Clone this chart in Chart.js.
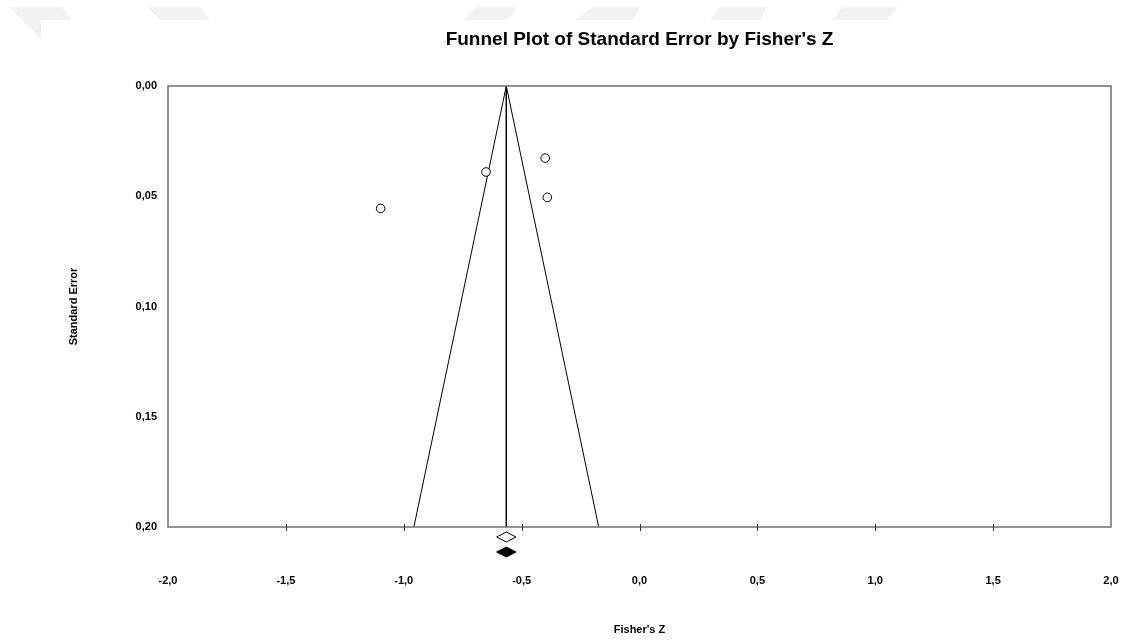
<!DOCTYPE html>
<html>
<head>
<meta charset="utf-8">
<script src="https://cdn.jsdelivr.net/npm/chart.js@4/dist/chart.umd.min.js"></script>
<style>
  html, body { margin: 0; padding: 0; background: #fff; }
  #wrap { width: 1127px; height: 643px; }
</style>
</head>
<body>
<div id="wrap"><canvas id="funnel" width="1127" height="643"></canvas></div>
<script>
// Study values
const studyZ = [-1.098, -0.651, -0.400, -0.391];
const studySE = [0.0555, 0.039, 0.0327, 0.0505];

// Combined effect and funnel limits (95%)
const meanZ = -0.565;
const funnelZ = [-0.957, -0.565, -0.173];
const funnelSE = [0.20, 0.00, 0.20];

// Summary diamonds under the axis (observed / imputed)
const diamondZ = [-0.565, -0.565];
const diamondHalf = [0.041, 0.041];
const diamondFilled = [false, true];

// Axis ticks
const xTicks = [-2.0, -1.5, -1.0, -0.5, 0.0, 0.5, 1.0, 1.5, 2.0];
const yTicks = [0.00, 0.05, 0.10, 0.15, 0.20];

const FONT = "'Liberation Sans', Arial, sans-serif";

// faint watermark bits at the top of the scanned page
const watermark = {
  id: 'watermark',
  beforeDraw(chart) {
    const ctx = chart.ctx;
    const shapes = [
      [[10, 7], [62, 7], [73, 20], [41, 20], [41, 40]],
      [[147, 7], [200, 7], [210, 20], [160, 20]],
      [[477, 7], [517, 7], [507, 20], [463, 20]],
      [[593, 7], [640, 7], [633, 20], [575, 20]],
      [[720, 7], [767, 7], [760, 20], [710, 20]],
      [[843, 7], [897, 7], [887, 20], [833, 20]]
    ];
    ctx.save();
    ctx.fillStyle = '#f1f1f1';
    shapes.forEach(s => {
      ctx.beginPath();
      ctx.moveTo(s[0][0], s[0][1]);
      s.slice(1).forEach(p => ctx.lineTo(p[0], p[1]));
      ctx.closePath();
      ctx.fill();
    });
    ctx.restore();
  }
};

// frame, x tick marks and the diamonds
const frame = {
  id: 'frame',
  afterDraw(chart) {
    const ctx = chart.ctx;
    const a = chart.chartArea;
    const xs = chart.scales.x;
    ctx.save();
    ctx.strokeStyle = '#777';
    ctx.lineWidth = 1.6;
    ctx.strokeRect(a.left, a.top, a.right - a.left, a.bottom - a.top);

    ctx.strokeStyle = '#333';
    ctx.lineWidth = 1;
    xTicks.slice(1, -1).forEach(v => {
      const px = Math.round(xs.getPixelForValue(v)) + 0.5;
      ctx.beginPath();
      ctx.moveTo(px, a.bottom - 3);
      ctx.lineTo(px, a.bottom + 4);
      ctx.stroke();
    });

    diamondZ.forEach((z, i) => {
      const cx = xs.getPixelForValue(z);
      const hw = xs.getPixelForValue(z + diamondHalf[i]) - cx;
      const cy = a.bottom + 10 + i * 15;
      ctx.beginPath();
      ctx.moveTo(cx - hw, cy);
      ctx.lineTo(cx, cy - 5);
      ctx.lineTo(cx + hw, cy);
      ctx.lineTo(cx, cy + 5);
      ctx.closePath();
      ctx.fillStyle = diamondFilled[i] ? '#000' : '#fff';
      ctx.fill();
      ctx.strokeStyle = '#000';
      ctx.stroke();
    });
    ctx.restore();
  }
};

new Chart(document.getElementById('funnel'), {
  type: 'scatter',
  data: {
    datasets: [
      {
        label: 'Studies',
        data: studyZ.map((z, i) => ({ x: z, y: studySE[i] })),
        pointRadius: 4.3,
        pointBackgroundColor: '#fff',
        pointBorderColor: '#000',
        pointBorderWidth: 1,
        order: 0
      },
      {
        label: 'Funnel',
        data: funnelZ.map((z, i) => ({ x: z, y: funnelSE[i] })),
        showLine: true,
        pointRadius: 0,
        borderColor: '#000',
        borderWidth: 1,
        order: 1
      },
      {
        label: 'Mean',
        data: [{ x: meanZ, y: 0 }, { x: meanZ, y: 0.20 }],
        showLine: true,
        pointRadius: 0,
        borderColor: '#000',
        borderWidth: 1,
        order: 1
      }
    ]
  },
  options: {
    responsive: false,
    animation: false,
    layout: { padding: { top: 0, right: 16, bottom: 0, left: 0 } },
    plugins: {
      legend: { display: false },
      tooltip: { enabled: false },
      title: {
        display: true,
        fullSize: false,
        text: "Funnel Plot of Standard Error by Fisher's Z",
        color: '#000',
        font: { family: FONT, size: 19, weight: 'bold' },
        padding: { top: 28.6, bottom: 34.6 }
      }
    },
    scales: {
      x: {
        type: 'linear',
        min: -2,
        max: 2,
        afterBuildTicks(scale) { scale.ticks = xTicks.map(v => ({ value: v })); },
        afterFit(scale) { scale.height = 116; },
        // invisible long tick marks push the labels down without adding side padding
        grid: { display: true, drawOnChartArea: false, drawTicks: true, tickLength: 47, color: 'transparent' },
        border: { display: false },
        ticks: {
          padding: 0,
          color: '#000',
          font: { family: FONT, size: 11, weight: 'bold' },
          maxRotation: 0,
          callback: v => v.toFixed(1).replace('.', ',')
        },
        title: {
          display: true,
          text: "Fisher's Z",
          color: '#000',
          font: { family: FONT, size: 11, weight: 'bold' },
          padding: { top: 0, bottom: 6 }
        }
      },
      y: {
        type: 'linear',
        reverse: true,
        min: 0,
        max: 0.2,
        afterBuildTicks(scale) { scale.ticks = yTicks.map(v => ({ value: v })); },
        afterFit(scale) { scale.width = 168; },
        grid: { display: false, drawTicks: false },
        border: { display: false },
        ticks: {
          padding: 11,
          color: '#000',
          font: { family: FONT, size: 11, weight: 'bold' },
          callback: v => v.toFixed(2).replace('.', ',')
        },
        title: {
          display: true,
          text: 'Standard Error',
          color: '#000',
          font: { family: FONT, size: 11, weight: 'bold' },
          padding: { top: 67, bottom: 0 }
        }
      }
    }
  },
  plugins: [watermark, frame]
});
</script>
</body>
</html>
